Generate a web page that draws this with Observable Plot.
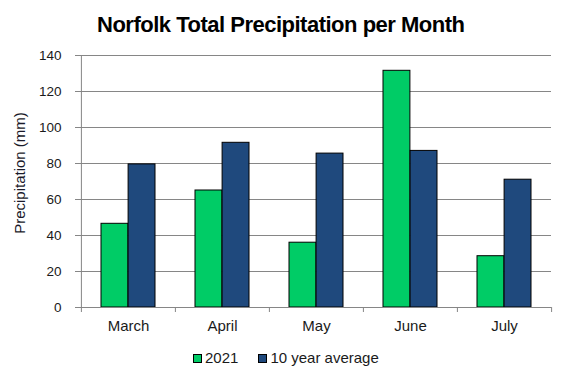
<!DOCTYPE html>
<html>
<head>
<meta charset="utf-8">
<script src="https://cdn.jsdelivr.net/npm/d3@7"></script>
<script src="https://cdn.jsdelivr.net/npm/@observablehq/plot@0.6"></script>
<style>
  html, body { margin: 0; padding: 0; background: #fff; }
  #wrap { position: relative; width: 566px; height: 378px; overflow: hidden; font-family: "Liberation Sans", Arial, sans-serif; color: #1a1a1a; }
  #title { position: absolute; left: 0; top: 0; }
  #chart { position: absolute; left: 0; top: 45px; }
  #ylabel { position: absolute; left: -80px; top: 163.5px; width: 200px; height: 18px; line-height: 18px; text-align: center; font-size: 15px; transform: rotate(-90deg); color: #1a1a2a; }
  #legend { position: absolute; left: 193px; top: 347px; height: 22px; line-height: 22px; display: flex; align-items: center; font-size: 15px; }
  .sw { display: inline-block; width: 9px; height: 9px; box-sizing: border-box; border: 1px solid #000; margin-right: 3px; }
  .item { display: flex; align-items: center; margin-right: 20px; }
</style>
</head>
<body>
<div id="wrap">
  <svg id="title" width="566" height="45">
    <text x="281" y="32" text-anchor="middle" font-family="Liberation Sans, Arial, sans-serif" font-weight="bold" font-size="22" fill="#000" textLength="368" lengthAdjust="spacing">Norfolk Total Precipitation per Month</text>
  </svg>
  <div id="chart"></div>
  <div id="ylabel">Precipitation (mm)</div>
  <div id="legend"></div>
</div>
<script>
const months = ["March", "April", "May", "June", "July"];
const series = ["2021", "10 year average"];
const values2021 = [46.5, 65, 36, 131.5, 28.5];
const valuesAvg = [79.5, 91.5, 85.5, 87, 71];
const yTicks = [0, 20, 40, 60, 80, 100, 120, 140];
const colors = ["#00cc66", "#1f497d"];

const data = months.flatMap((m, i) => [
  {month: m, series: series[0], value: values2021[i]},
  {month: m, series: series[1], value: valuesAvg[i]}
]);

const W = 566, mL = 80, mR = 15, mT = 10, mB = 30, H = 292;
const plotH = H - mT - mB;
const bw = (W - mL - mR) / months.length;
const grid = "#868686";

const chart = Plot.plot({
  width: W,
  height: H,
  marginLeft: mL,
  marginRight: mR,
  marginTop: mT,
  marginBottom: mB,
  style: {fontFamily: "Liberation Sans, Arial, sans-serif", fontSize: "14px", color: "#1a1a1a", background: "white", overflow: "visible"},
  x: {domain: months, padding: 0},
  y: {domain: [0, 140]},
  color: {domain: series, range: colors},
  marks: [
    Plot.ruleY(yTicks.slice(1), {stroke: grid, strokeWidth: 1}),
    Plot.barY(data.filter(d => d.series === series[0]), {x: "month", y: "value", fill: "series", stroke: "#000", strokeWidth: 1, insetLeft: 20, insetRight: bw / 2}),
    Plot.barY(data.filter(d => d.series === series[1]), {x: "month", y: "value", fill: "series", stroke: "#000", strokeWidth: 1, insetLeft: bw / 2, insetRight: 20}),
    Plot.ruleY([0], {stroke: grid, strokeWidth: 1}),
    Plot.tickX([months[0]], {x: d => d, dx: -bw / 2, stroke: grid, insetBottom: -5}),
    Plot.tickX(months.slice(1), {x: d => d, dx: -bw / 2, stroke: grid, insetTop: plotH, insetBottom: -5}),
    Plot.tickX([months[months.length - 1]], {x: d => d, dx: bw / 2, stroke: grid, insetTop: plotH, insetBottom: -5}),
    Plot.axisY({ticks: yTicks, tickSize: 5, tickPadding: 14, stroke: grid, fill: "#1a1a1a", fontSize: 13.5, label: null, tickFormat: d => String(d)}),
    Plot.axisX({tickSize: 0, tickPadding: 13, fill: "#1a1a1a", fontSize: 15, label: null})
  ]
});
document.getElementById("chart").appendChild(chart);

const legend = document.getElementById("legend");
series.forEach((s, i) => {
  const item = document.createElement("div");
  item.className = "item";
  const sw = document.createElement("span");
  sw.className = "sw";
  sw.style.background = colors[i];
  const t = document.createElement("span");
  t.textContent = s;
  item.appendChild(sw);
  item.appendChild(t);
  legend.appendChild(item);
});
</script>
</body>
</html>
